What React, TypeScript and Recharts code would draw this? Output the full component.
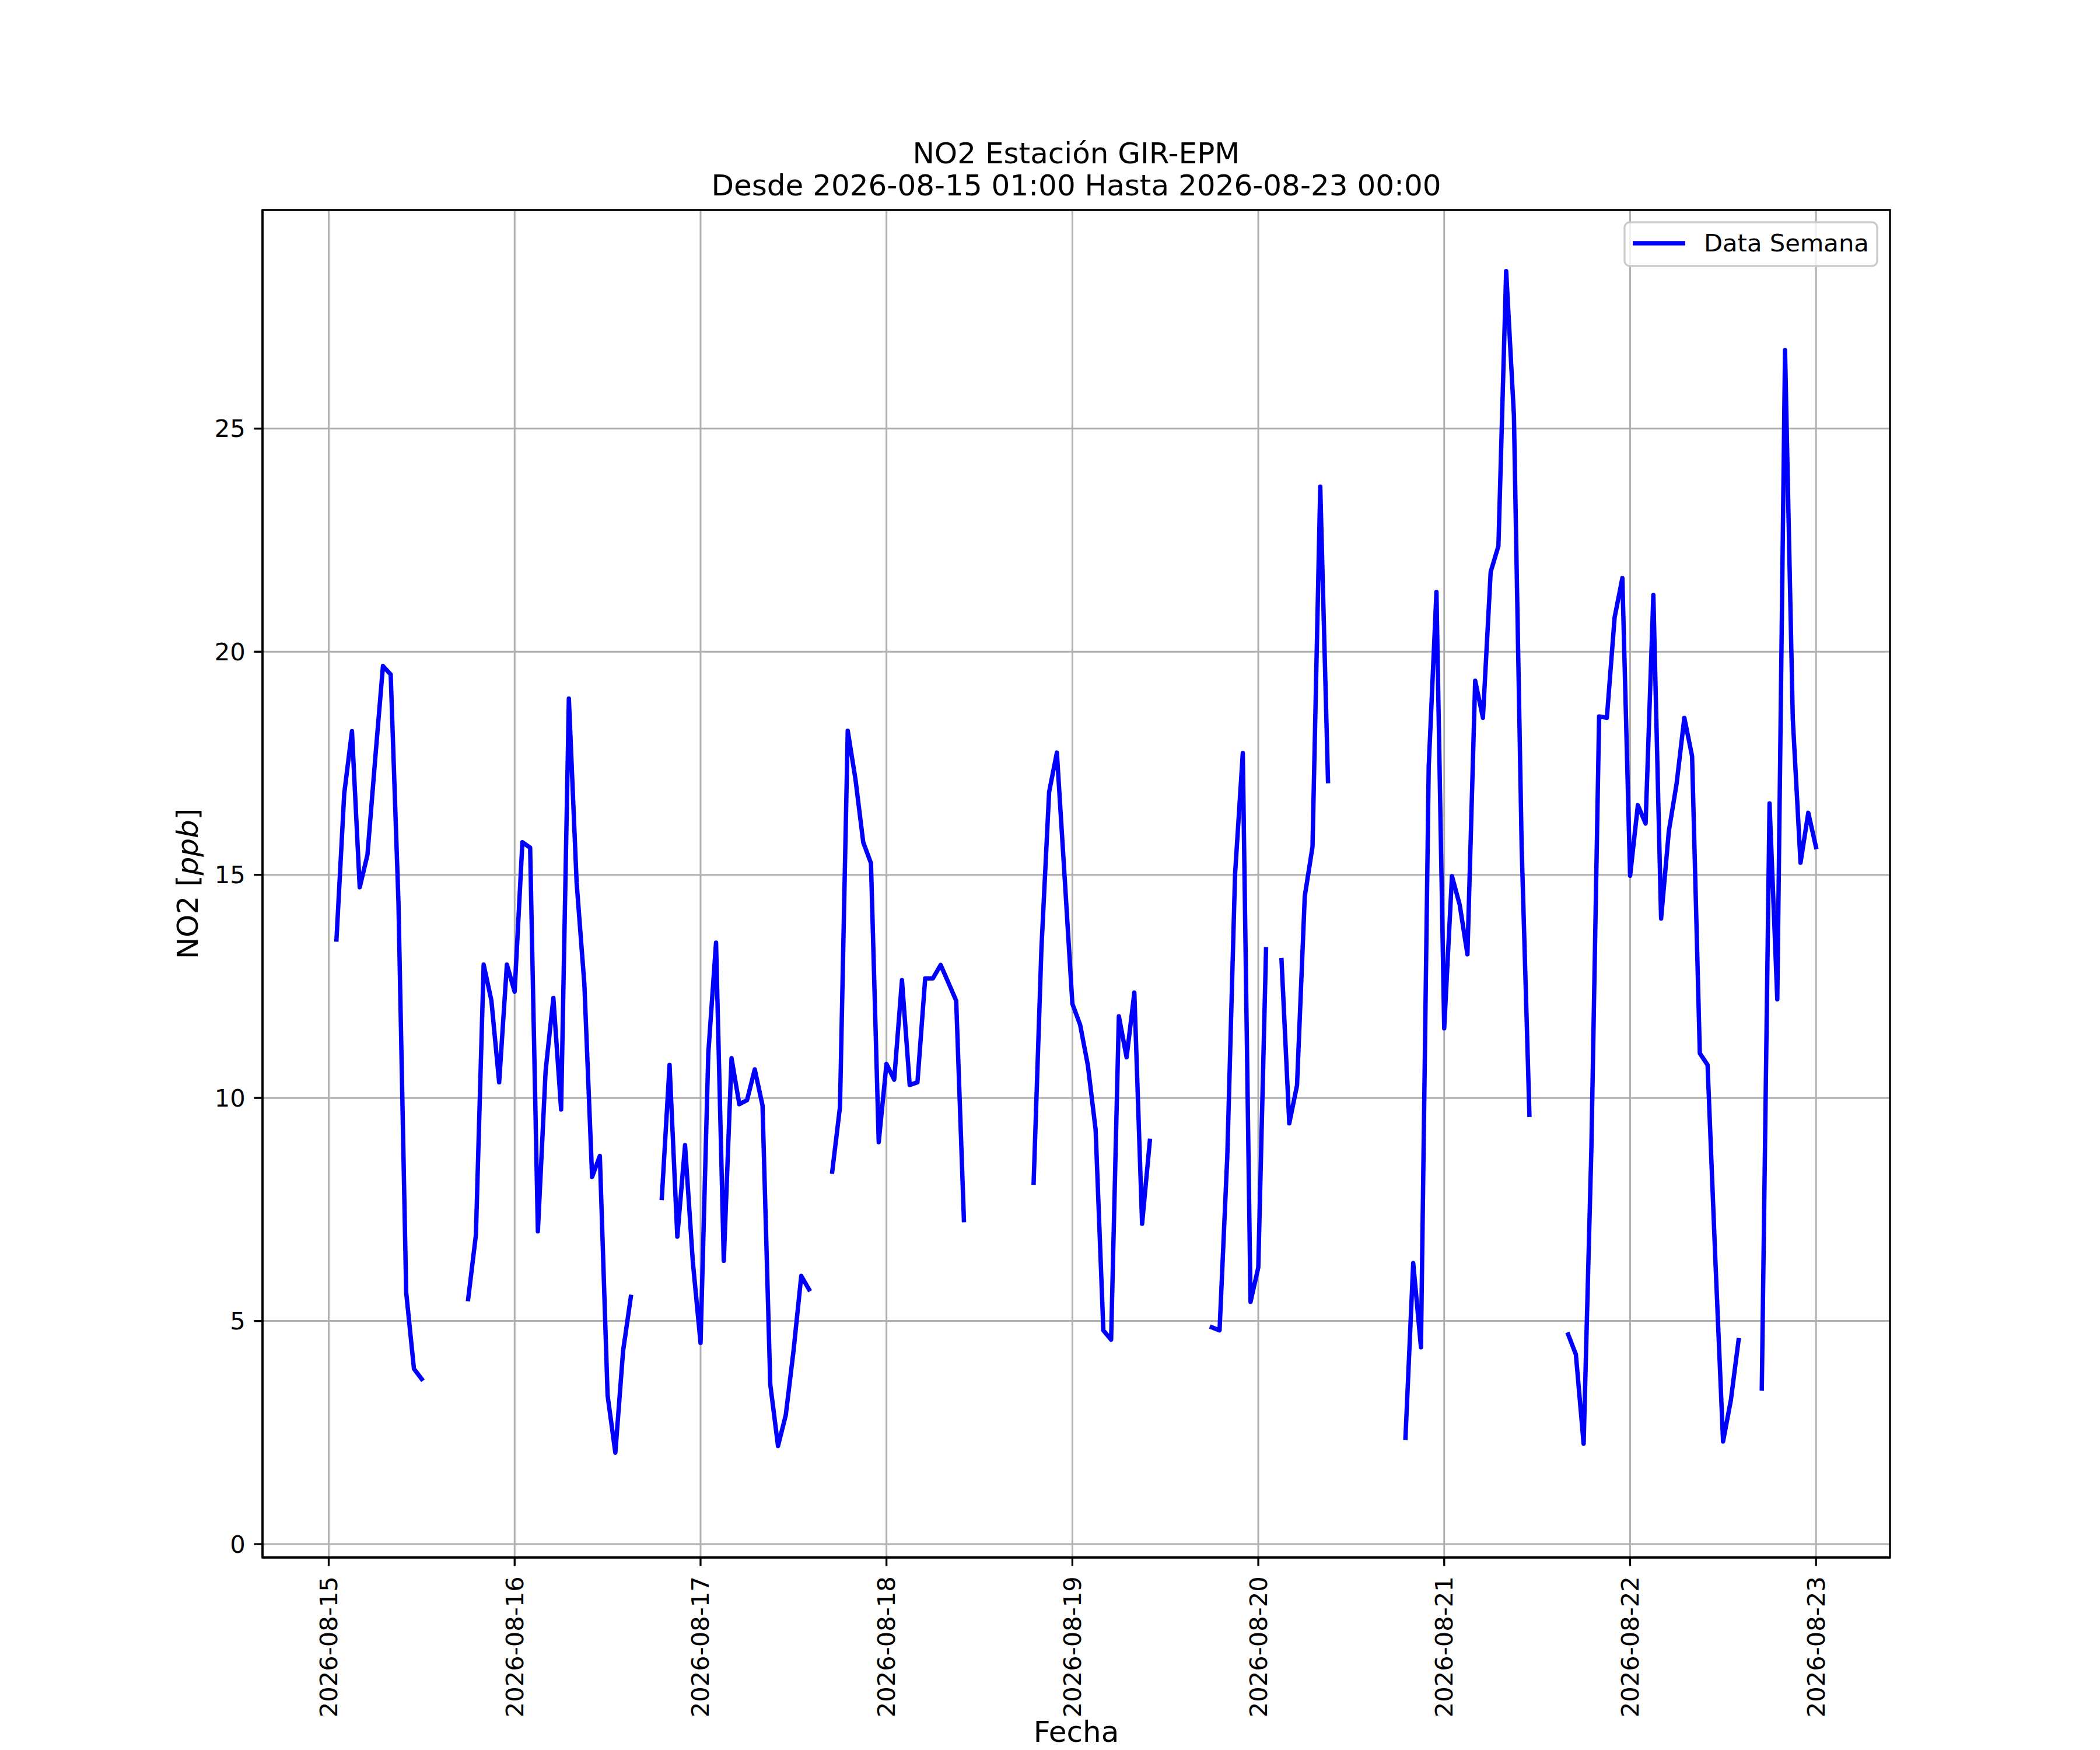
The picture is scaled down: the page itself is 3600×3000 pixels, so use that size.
import React from 'react';
import { LineChart, Line, XAxis, YAxis, CartesianGrid, ReferenceArea } from 'recharts';

// Time axis: hours since 2026-08-15 00:00
const dayTicks = [0, 24, 48, 72, 96, 120, 144, 168, 192];
const dayLabels = [
  '2026-08-15', '2026-08-16', '2026-08-17', '2026-08-18', '2026-08-19',
  '2026-08-20', '2026-08-21', '2026-08-22', '2026-08-23',
];
const yTicks = [0, 5, 10, 15, 20, 25];

// Hourly NO2 [ppb], 01:00 .. 24:00 of each day (null = missing)
const day15 = [13.55, 16.82, 18.22, 14.72, 15.45, 17.6, 19.68, 19.49, 14.39, 5.64, 3.93, 3.7,
  null, null, null, null, null, 5.49, 6.93, 12.99, 12.18, 10.35, 12.99, 12.38];
const day16 = [15.73, 15.61, 7.01, 10.61, 12.24, 9.74, 18.95, 14.83, 12.55, 8.23, 8.7, 3.33,
  2.05, 4.33, 5.54, null, null, null, 7.76, 10.74, 6.89, 8.94, 6.33, 4.51];
const day17 = [11.0, 13.48, 6.35, 10.89, 9.86, 9.95, 10.64, 9.83, 3.58, 2.2, 2.89, 4.33,
  6.01, 5.71, null, null, 8.35, 9.8, 18.23, 17.14, 15.73, 15.26, 9.01, 10.76];
const day18 = [10.41, 12.64, 10.29, 10.35, 12.68, 12.68, 12.98, 12.58, 12.18, 7.26, null, null,
  null, null, null, null, null, null, 8.1, 13.33, 16.86, 17.74, 14.95, 12.11];
const day19 = [11.64, 10.73, 9.29, 4.79, 4.58, 11.83, 10.91, 12.36, 7.18, 9.04, null, null,
  null, null, null, null, null, 4.86, 4.79, 8.7, 15.01, 17.73, 5.43, 6.2];
const day20 = [13.33, null, 13.09, 9.43, 10.28, 14.52, 15.63, 23.7, 17.1, null, null, null,
  null, null, null, null, null, null, 2.38, 6.3, 4.41, 17.42, 21.34, 11.56];
const day21 = [14.97, 14.33, 13.22, 19.35, 18.52, 21.79, 22.37, 28.53, 25.3, 15.62, 9.62, null,
  null, null, null, 4.7, 4.25, 2.25, 8.87, 18.55, 18.52, 20.77, 21.65, 14.98];
const day22 = [16.56, 16.15, 21.27, 14.02, 15.98, 17.04, 18.52, 17.66, 11.0, 10.74, 6.39, 2.3,
  3.22, 4.57, null, null, 3.49, 16.6, 12.21, 26.76, 18.5, 15.27, 16.39, 15.62];

const days = [day15, day16, day17, day18, day19, day20, day21, day22];
const data = days.flatMap((vals, d) => vals.map((v, i) => ({ h: d * 24 + i + 1, no2: v })));

const FONT = 'DejaVu Sans';
const TICK_FS = 41.67;
const LABEL_FS = 50;
const LINE_W = 7.5;
const X_DOMAIN: [number, number] = [-8.55, 201.55];
const Y_DOMAIN: [number, number] = [-0.3, 29.9];

const XTick = (props: any) => {
  const { x, y, payload } = props;
  const idx = dayTicks.indexOf(payload.value);
  return (
    <text
      transform={`translate(${x},${y + 3}) rotate(-90)`}
      textAnchor="end"
      dominantBaseline="central"
      fontFamily={FONT}
      fontSize={TICK_FS}
      fill="#000"
    >
      {idx >= 0 ? dayLabels[idx] : ''}
    </text>
  );
};

const YTick = (props: any) => {
  const { x, y, payload } = props;
  return (
    <text x={x} y={y} textAnchor="end" dominantBaseline="central" fontFamily={FONT} fontSize={TICK_FS} fill="#000">
      {payload.value}
    </text>
  );
};

export default function App() {
  return (
    <div style={{ position: 'absolute', left: 0, top: 0, width: 3600, height: 3000, background: '#fff' }}>
      <LineChart
        width={3600}
        height={3000}
        data={data}
        margin={{ top: 360, right: 360, bottom: 30, left: 250 }}
      >
        <CartesianGrid stroke="#b0b0b0" strokeWidth={3} />
        <XAxis
          dataKey="h"
          type="number"
          domain={X_DOMAIN}
          allowDataOverflow
          ticks={dayTicks}
          interval={0}
          height={300}
          tick={<XTick />}
          tickSize={14.58}
          tickMargin={14.58}
          tickLine={{ stroke: '#000', strokeWidth: 3.33 }}
          axisLine={{ stroke: '#000', strokeWidth: 3.33 }}
        />
        <YAxis
          type="number"
          domain={Y_DOMAIN}
          allowDataOverflow
          ticks={yTicks}
          interval={0}
          width={200}
          tick={<YTick />}
          tickSize={14.58}
          tickMargin={14.58}
          tickLine={{ stroke: '#000', strokeWidth: 3.33 }}
          axisLine={{ stroke: '#000', strokeWidth: 3.33 }}
        />
        <Line
          type="linear"
          dataKey="no2"
          stroke="#0000ff"
          strokeWidth={LINE_W}
          strokeLinecap="square"
          strokeLinejoin="round"
          dot={false}
          activeDot={false}
          connectNulls={false}
          isAnimationActive={false}
        />
        <ReferenceArea
          x1={X_DOMAIN[0]}
          x2={X_DOMAIN[1]}
          y1={Y_DOMAIN[0]}
          y2={Y_DOMAIN[1]}
          fill="none"
          fillOpacity={0}
          stroke="#000"
          strokeWidth={3.33}
          ifOverflow="visible"
        />
      </LineChart>
      <svg
        width={3600}
        height={3000}
        style={{ position: 'absolute', left: 0, top: 0, pointerEvents: 'none' }}
      >
        <text x={1845} y={280} textAnchor="middle" fontFamily={FONT} fontSize={LABEL_FS} fill="#000">
          NO2 Estación GIR-EPM
        </text>
        <text x={1845} y={335} textAnchor="middle" fontFamily={FONT} fontSize={LABEL_FS} fill="#000">
          Desde 2026-08-15 01:00 Hasta 2026-08-23 00:00
        </text>
        <text x={1845} y={2986} textAnchor="middle" fontFamily={FONT} fontSize={LABEL_FS} fill="#000">
          Fecha
        </text>
        <text
          transform="translate(322,1515) rotate(-90)"
          textAnchor="middle"
          dominantBaseline="central"
          fontFamily={FONT}
          fontSize={LABEL_FS}
          fill="#000"
        >
          NO2 [<tspan fontStyle="italic">ppb</tspan>]
        </text>
        <rect x={2785} y={381} width={433} height={75} rx={9} ry={9} fill="#fff" fillOpacity={0.8} stroke="#cccccc" strokeWidth={3.33} />
        <line x1={2799} y1={417} x2={2889} y2={417} stroke="#0000ff" strokeWidth={LINE_W} strokeLinecap="butt" />
        <text x={2921} y={431} fontFamily={FONT} fontSize={TICK_FS} fill="#000">
          Data Semana
        </text>
      </svg>
    </div>
  );
}
